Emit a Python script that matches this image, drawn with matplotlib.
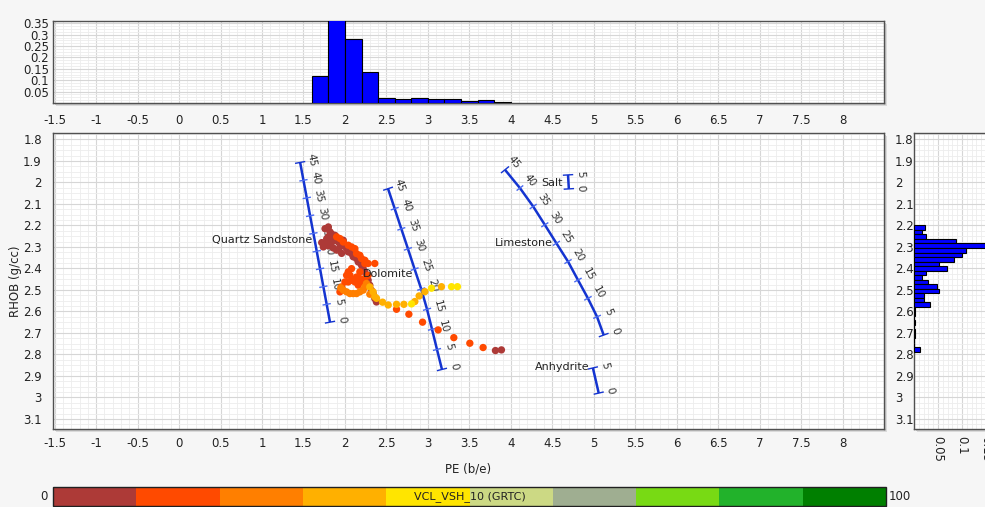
import numpy as np
import matplotlib
matplotlib.use("Agg")
import matplotlib.pyplot as plt
from matplotlib.colors import ListedColormap, BoundaryNorm
from matplotlib.patches import Rectangle
from matplotlib.ticker import MultipleLocator
from matplotlib.cm import ScalarMappable

plt.rcParams['font.family'] = ['DejaVu Sans']
plt.rcParams['font.size'] = 8

# ---------------- data ----------------
# scatter points grouped by VCL class (PE b/e, RHOB g/cc)
pe_c05 = [1.76, 1.80, 1.82, 1.78, 1.80, 1.86, 1.88, 1.92, 1.96, 2.00, 1.94, 2.02, 2.04, 2.08,
          2.10, 2.14, 2.16, 2.20, 2.22, 2.24, 2.26, 2.28, 2.30, 2.32, 2.34, 2.36, 2.38, 1.84,
          1.88, 1.98, 1.76, 1.80, 1.86, 1.90, 1.84, 1.96, 1.74, 1.72, 3.815, 3.887]
rh_c05 = [2.215, 2.207, 2.230, 2.262, 2.253, 2.253, 2.269, 2.277, 2.284, 2.292, 2.300, 2.308,
          2.323, 2.331, 2.346, 2.354, 2.370, 2.385, 2.401, 2.416, 2.432, 2.455, 2.478, 2.502,
          2.517, 2.540, 2.556, 2.277, 2.246, 2.269, 2.285, 2.295, 2.305, 2.315, 2.240, 2.330,
          2.300, 2.280, 2.782, 2.779]
pe_c15 = [1.90, 1.94, 1.98, 2.04, 2.08, 2.12, 2.14, 2.18, 2.20, 2.24, 2.24, 2.28, 2.36, 2.18,
          2.08, 2.04, 2.02, 2.06, 2.08, 2.04, 2.12, 2.14, 2.18, 2.20, 2.16, 2.00, 1.96, 1.94,
          2.24, 2.28, 2.622, 2.771, 2.936, 3.124, 3.313, 3.506, 3.666]
rh_c15 = [2.253, 2.261, 2.277, 2.292, 2.300, 2.308, 2.331, 2.339, 2.354, 2.362, 2.377, 2.377,
          2.377, 2.416, 2.401, 2.416, 2.432, 2.432, 2.455, 2.463, 2.463, 2.440, 2.447, 2.463,
          2.478, 2.463, 2.486, 2.509, 2.447, 2.432, 2.590, 2.613, 2.650, 2.686, 2.722, 2.748,
          2.768]
pe_c25 = [1.98, 2.02, 2.06, 2.10, 2.14, 2.18, 2.22, 2.24, 2.26, 1.95, 2.30]
rh_c25 = [2.501, 2.509, 2.517, 2.517, 2.517, 2.509, 2.501, 2.486, 2.470, 2.490, 2.520]
pe_c35 = [2.30, 2.34, 2.36, 2.381, 2.454, 2.522, 2.622, 2.711, 2.843, 2.895, 2.964, 3.164]
rh_c35 = [2.486, 2.509, 2.532, 2.539, 2.557, 2.570, 2.567, 2.567, 2.554, 2.528, 2.508, 2.485]
pe_c45 = [2.803, 3.044, 3.285, 3.357]
rh_c45 = [2.565, 2.492, 2.485, 2.485]
vcl_classes = [5, 15, 25, 35, 45]

# colour scale (VCL_VSH_10 0..100, 10 steps)
vcl_bounds = [0, 10, 20, 30, 40, 50, 60, 70, 80, 90, 100]
vcl_colors = ['#AD3A37', '#FF4A00', '#FF7F00', '#FFB000', '#FFE500',
              '#CCD984', '#9FAE91', '#78DA14', '#22B22B', '#007F00']

# PE histogram (top)
pe_bin_left = [1.6, 1.8, 2.0, 2.2, 2.4, 2.6, 2.8, 3.0, 3.2, 3.4, 3.6, 3.8]
pe_bin_width = 0.2
pe_freq = [0.119, 0.37, 0.28, 0.138, 0.024, 0.016, 0.024, 0.016, 0.016, 0.007, 0.011, 0.006]

# RHOB histogram (right)
rh_bin_bottom = [2.200, 2.221, 2.242, 2.263, 2.284, 2.305, 2.326, 2.347, 2.368, 2.389, 2.410,
                 2.431, 2.452, 2.473, 2.494, 2.515, 2.536, 2.557, 2.578, 2.599, 2.620, 2.641,
                 2.662, 2.683, 2.704, 2.725, 2.746, 2.767]
rh_bin_height = 0.021
rh_freq = [0.022, 0.017, 0.026, 0.088, 0.147, 0.108, 0.101, 0.083, 0.052, 0.069, 0.026, 0.017,
           0.029, 0.047, 0.052, 0.021, 0.021, 0.034, 0.003, 0.003, 0.0, 0.002, 0.0, 0.002,
           0.002, 0.0, 0.001, 0.013]

# mineral porosity lines (porosity 0..45 %)
phi_main = [0, 5, 10, 15, 20, 25, 30, 35, 40, 45]
ss_pe = [1.82, 1.78, 1.74, 1.70, 1.66, 1.62, 1.58, 1.54, 1.50, 1.46]
ss_rh = [2.65, 2.567, 2.485, 2.402, 2.32, 2.237, 2.155, 2.072, 1.99, 1.907]
dol_pe = [3.17, 3.11, 3.05, 2.99, 2.92, 2.84, 2.76, 2.68, 2.60, 2.52]
dol_rh = [2.87, 2.777, 2.683, 2.59, 2.496, 2.403, 2.309, 2.216, 2.122, 2.029]
ls_pe = [5.12, 5.04, 4.93, 4.81, 4.69, 4.55, 4.41, 4.27, 4.11, 3.93]
ls_rh = [2.71, 2.625, 2.539, 2.454, 2.368, 2.283, 2.197, 2.112, 2.026, 1.941]
phi_short = [0, 5]
salt_pe = [4.70, 4.69]
salt_rh = [2.03, 1.965]
anh_pe = [5.06, 4.99]
anh_rh = [2.98, 2.863]
mineral_names = ['Quartz Sandstone', 'Dolomite', 'Limestone', 'Salt', 'Anhydrite']
mineral_label_pe = [1.61, 2.82, 4.51, 4.63, 4.95]
mineral_label_rh = [2.267, 2.426, 2.281, 2.002, 2.858]

x_ticks = [-1.5, -1, -0.5, 0, 0.5, 1, 1.5, 2, 2.5, 3, 3.5, 4, 4.5, 5, 5.5, 6, 6.5, 7, 7.5, 8]
y_ticks = [1.8, 1.9, 2, 2.1, 2.2, 2.3, 2.4, 2.5, 2.6, 2.7, 2.8, 2.9, 3, 3.1]
top_y_ticks = [0.05, 0.1, 0.15, 0.2, 0.25, 0.3, 0.35]
right_x_ticks = [0.05, 0.1, 0.15]

# ---------------- figure ----------------
W, H = 985, 507
fig = plt.figure(figsize=(W / 100, H / 100), dpi=100)
fig.patch.set_facecolor('#F6F6F6')

def fr(x0, y0, x1, y1):
    return [x0 / W, 1 - y1 / H, (x1 - x0) / W, (y1 - y0) / H]

def shadow(x0, y0, x1, y1):
    for k, c in enumerate(['#DADADA', '#C8C8C8']):
        o = 3 - k
        fig.patches.append(Rectangle(((x0 + o) / W, 1 - (y1 + o) / H), (x1 - x0) / W,
                                     (y1 - y0) / H, transform=fig.transFigure,
                                     facecolor=c, edgecolor='none', zorder=-5 + k))

main_box = (53, 133, 884, 429)
top_box = (53, 21, 884, 103)
right_box = (914, 133, 1010, 429)
for b in (main_box, top_box, right_box):
    shadow(*b)

ax = fig.add_axes(fr(*main_box))
axt = fig.add_axes(fr(*top_box))
axr = fig.add_axes(fr(*right_box))
cax = fig.add_axes(fr(53, 487, 886, 506))

XLIM = (-1.52, 8.5)
YLIM = (3.147, 1.77)

TICK_C = '#222222'
def style(a):
    a.set_facecolor('white')
    for s in a.spines.values():
        s.set_color('#505050')
        s.set_linewidth(1.0)
    a.grid(which='major', color='#D6D6D6', lw=0.8)
    a.grid(which='minor', color='#EDEDED', lw=0.6)
    a.set_axisbelow(True)
    a.tick_params(which='both', length=0, colors=TICK_C, labelsize=8.5)

# main
style(ax)
ax.set_xlim(*XLIM)
ax.set_ylim(*YLIM)
ax.set_xticks(x_ticks)
ax.set_xticklabels([f'{t:g}' for t in x_ticks])
ax.set_yticks(y_ticks)
ax.set_yticklabels([f'{t:g}' for t in y_ticks])
ax.xaxis.set_minor_locator(MultipleLocator(0.1))
ax.yaxis.set_minor_locator(MultipleLocator(0.025))
ax.tick_params(axis='x', pad=6)
ax.tick_params(axis='y', pad=8, labelright=True)
fig.text(468.5 / W, 1 - 469 / H, 'PE (b/e)', ha='center', va='center', fontsize=8.5, color=TICK_C)
fig.text(15 / W, 1 - 281 / H, 'RHOB (g/cc)', ha='center', va='center', rotation=90,
         fontsize=8.5, color=TICK_C)

cmap = ListedColormap(vcl_colors)
norm = BoundaryNorm(vcl_bounds, cmap.N)
pe_all = pe_c05 + pe_c15 + pe_c25 + pe_c35 + pe_c45
rh_all = rh_c05 + rh_c15 + rh_c25 + rh_c35 + rh_c45
vcl_all = ([vcl_classes[0]] * len(pe_c05) + [vcl_classes[1]] * len(pe_c15) +
           [vcl_classes[2]] * len(pe_c25) + [vcl_classes[3]] * len(pe_c35) +
           [vcl_classes[4]] * len(pe_c45))
ax.scatter(pe_all, rh_all, c=vcl_all, cmap=cmap, norm=norm, s=28, edgecolors='none', zorder=4)

# mineral lines
LINE_C = '#1434D0'
TK_C = '#4A6AF0'
inv = ax.transData.inverted()

def mineral(pe, rh, phi):
    ax.plot(pe, rh, color=LINE_C, lw=1.8, zorder=3, solid_capstyle='butt')
    P = ax.transData.transform(np.column_stack([pe, rh]))
    n = len(pe)
    for i in range(n):
        j0, j1 = max(i - 1, 0), min(i + 1, n - 1)
        d = P[j0] - P[j1]
        d = d / np.hypot(*d)
        perp = np.array([-d[1], d[0]])
        ang = np.degrees(np.arctan2(d[1], d[0]))
        half = 4.5 if i in (0, n - 1) else 3.5
        seg = inv.transform(np.array([P[i] - perp * half, P[i] + perp * half]))
        ax.plot(seg[:, 0], seg[:, 1], color=LINE_C if i in (0, n - 1) else TK_C,
                lw=1.0, zorder=3)
        off = perp * 12
        ax.annotate(f'{phi[i]}', xy=(pe[i], rh[i]), xytext=(off[0], off[1]),
                    textcoords='offset pixels', rotation=ang, rotation_mode='anchor',
                    ha='center', va='center', fontsize=7.5, color='#333333', zorder=2.8)

mineral(ss_pe, ss_rh, phi_main)
mineral(dol_pe, dol_rh, phi_main)
mineral(ls_pe, ls_rh, phi_main)
mineral(salt_pe, salt_rh, phi_short)
mineral(anh_pe, anh_rh, phi_short)
for name, x, y in zip(mineral_names, mineral_label_pe, mineral_label_rh):
    ax.text(x, y, name, ha='right', va='center', fontsize=8, color='#222222', zorder=5)

# top histogram
style(axt)
axt.bar(pe_bin_left, pe_freq, width=pe_bin_width, align='edge', color='#0000FF',
        edgecolor='black', linewidth=0.8, zorder=3)
axt.set_xlim(*XLIM)
axt.set_ylim(0, 0.36)
axt.set_xticks(x_ticks)
axt.set_xticklabels([f'{t:g}' for t in x_ticks])
axt.set_yticks(top_y_ticks)
axt.set_yticklabels([f'{t:g}' for t in top_y_ticks])
axt.xaxis.set_minor_locator(MultipleLocator(0.1))
axt.yaxis.set_minor_locator(MultipleLocator(0.0125))
axt.tick_params(axis='x', pad=8)
axt.tick_params(axis='y', pad=3)

# right histogram
style(axr)
axr.barh(rh_bin_bottom, rh_freq, height=rh_bin_height, align='edge', color='#0000FF',
         edgecolor='black', linewidth=0.8, zorder=3)
axr.set_ylim(*YLIM)
axr.set_xlim(0, 0.2)
axr.set_yticks(y_ticks)
axr.set_yticklabels([])
axr.set_xticks(right_x_ticks)
axr.set_xticklabels([f'{t:g}' for t in right_x_ticks], rotation=-90)
axr.xaxis.set_minor_locator(MultipleLocator(0.01))
axr.yaxis.set_minor_locator(MultipleLocator(0.025))
axr.tick_params(axis='x', pad=5)

# colour bar
sm = ScalarMappable(norm=norm, cmap=cmap)
cb = fig.colorbar(sm, cax=cax, orientation='horizontal')
cb.set_ticks([])
cb.outline.set_edgecolor('#202020')
cb.outline.set_linewidth(1.0)
cax.text(0.5, 0.5, 'VCL_VSH_10 (GRTC)', transform=cax.transAxes, ha='center', va='center',
         fontsize=8, color='#222222')
fig.text(48 / W, 1 - 496.5 / H, '0', ha='right', va='center', fontsize=8.5, color=TICK_C)
fig.text(889 / W, 1 - 496.5 / H, '100', ha='left', va='center', fontsize=8.5, color=TICK_C)

fig.savefig('out.png', dpi=100, facecolor=fig.get_facecolor())
